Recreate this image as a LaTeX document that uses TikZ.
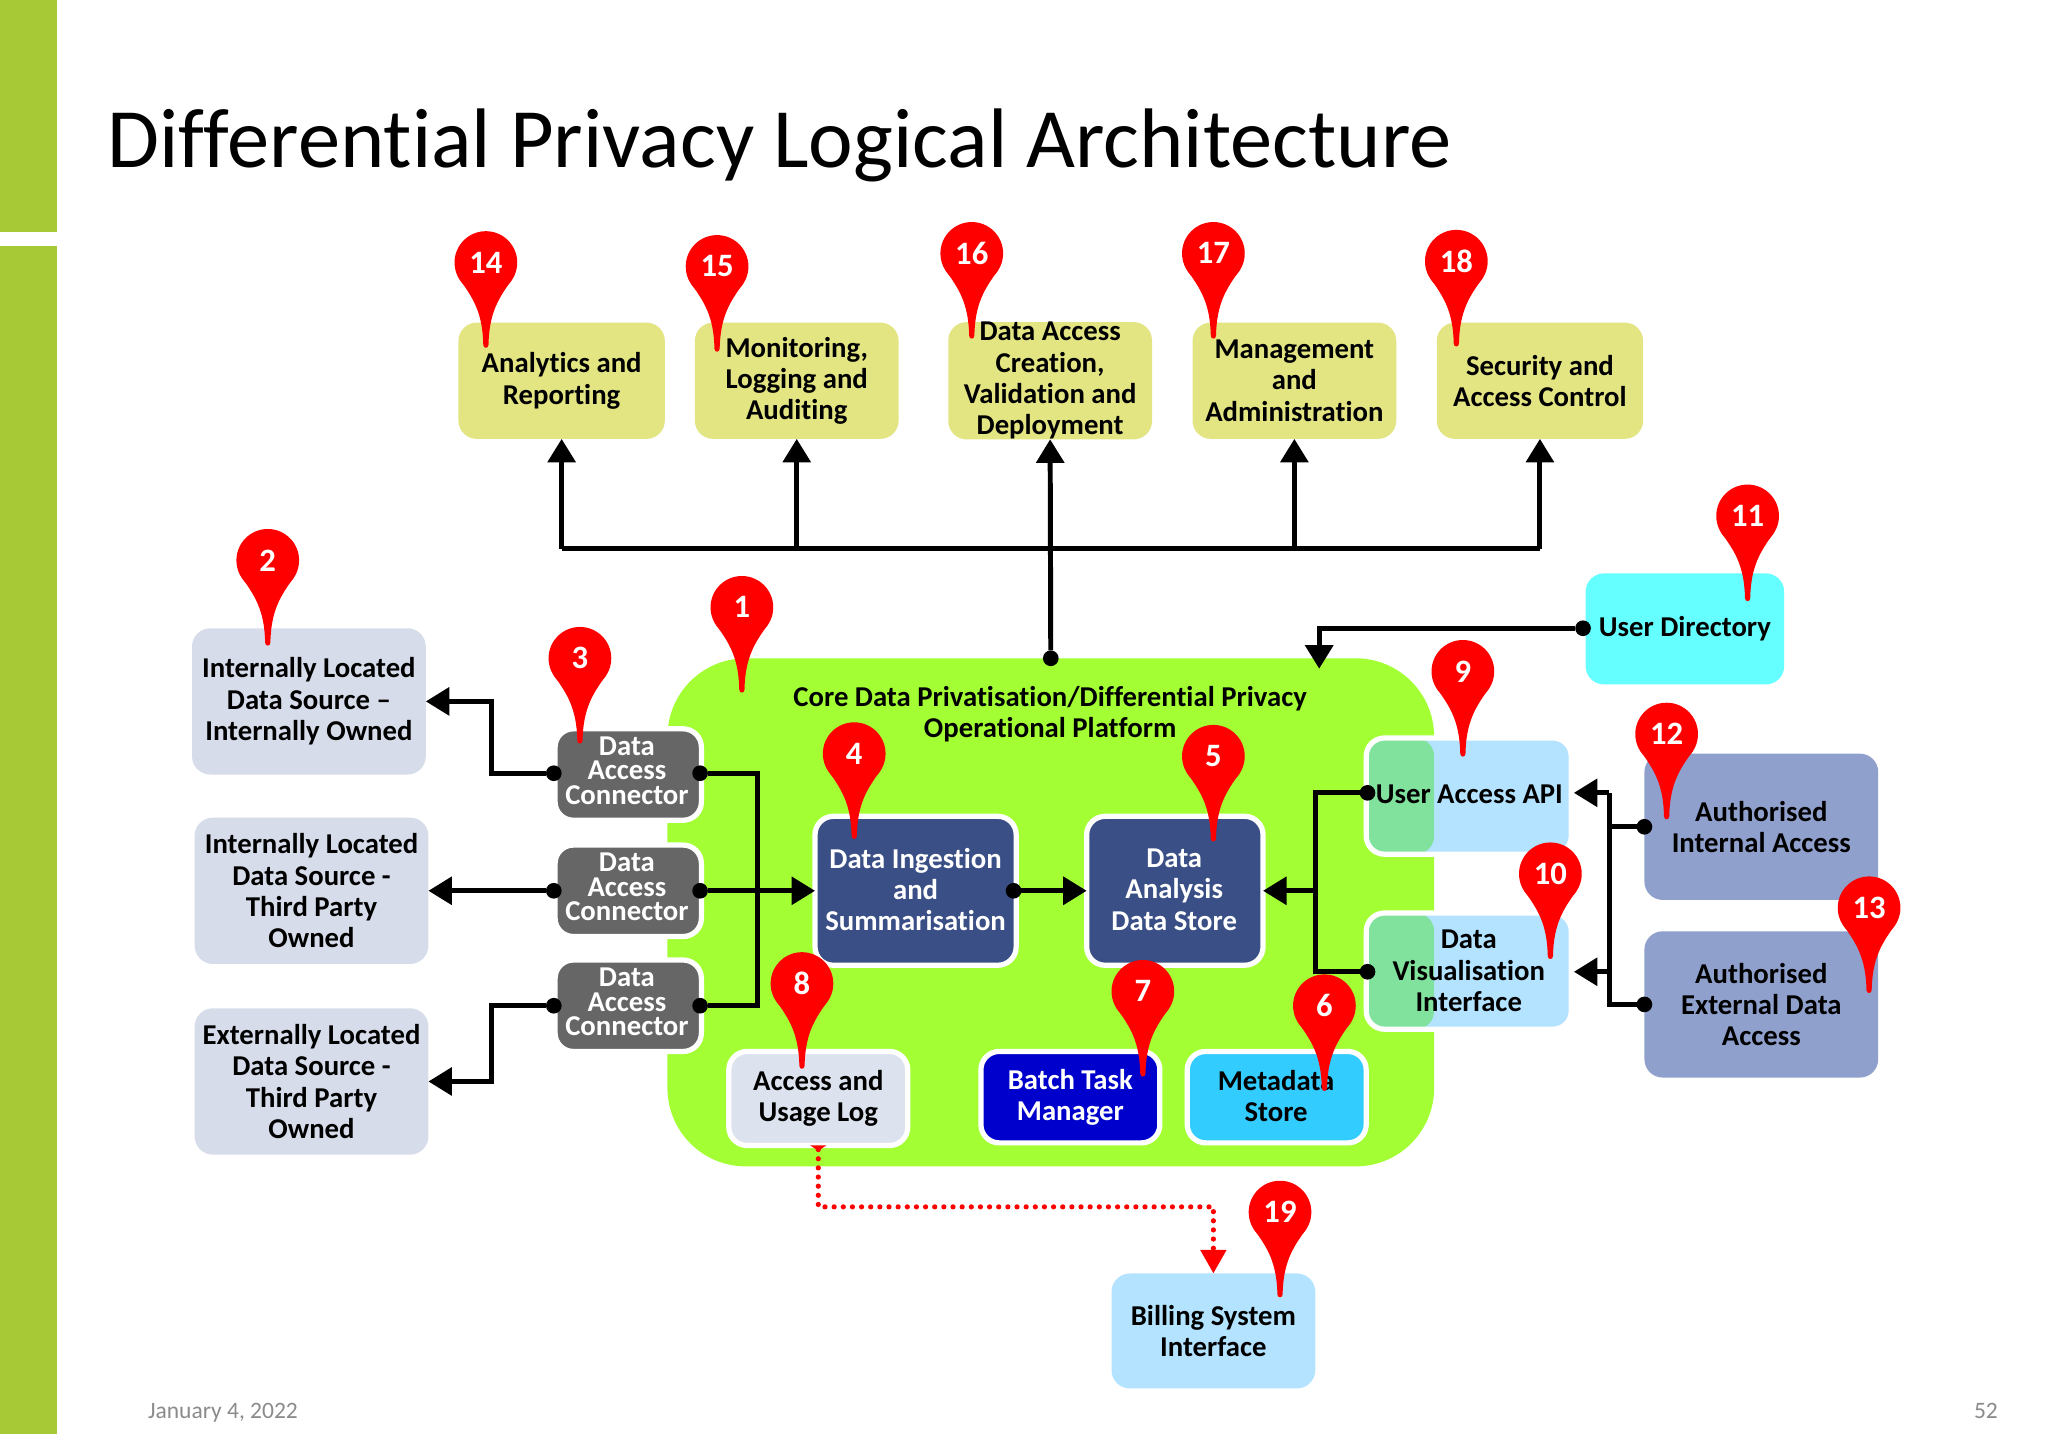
\documentclass[tikz,border=0pt]{standalone}
\usepackage{fontspec}
\setmainfont{Carlito}[Ligatures=NoCommon]
\usetikzlibrary{arrows.meta}
\definecolor{barG}{HTML}{A7C936}
\definecolor{plat}{HTML}{A3FF33}
\definecolor{yel}{HTML}{E3E582}
\definecolor{slate}{HTML}{D6DCE9}
\definecolor{navy}{HTML}{3A4F85}
\definecolor{greyb}{HTML}{666666}
\definecolor{lblue}{HTML}{B3E3FF}
\definecolor{mgreen}{HTML}{80E29C}
\definecolor{peri}{HTML}{8FA0CC}
\definecolor{cyanb}{HTML}{66FFFF}
\definecolor{skyb}{HTML}{33CCFF}
\definecolor{deepb}{HTML}{0000CC}
\definecolor{logb}{HTML}{DDE3EE}
\definecolor{foot}{HTML}{8B8B8B}
\newcommand{\bodyfont}{\bfseries\fontsize{11}{12}\selectfont}
\tikzset{
  x=0.5pt,y=-0.5pt,
  box/.style={rectangle,rounded corners=7pt,inner sep=0pt,outer sep=0pt,align=center,
    font=\bodyfont,text=black},
  wb/.style={box,draw=white,line width=2pt},
  lbl/.style={align=center,inner sep=0pt,font=\bodyfont},
  daclbl/.style={align=center,inner sep=0pt,text=white,font=\bfseries\fontsize{11}{9.3}\selectfont},
  conn/.style={line width=1.9pt,black,line join=miter},
  arr/.style={conn,-{Triangle[length=9pt,width=10.5pt]}},
  dot/.style={circle,fill=black,inner sep=0pt,minimum size=6pt,outer sep=0pt},
  pinnum/.style={text=white,font=\bfseries\fontsize{12.5}{14}\selectfont,inner sep=0pt},
  dotted red/.style={red,line width=2pt,line cap=round,dash pattern=on 0pt off 3.5pt,
    {Triangle[length=2pt,width=6pt,reversed]}-{Triangle[length=9pt,width=9.5pt]}},
}
% name, x1, y1, x2, y2, style, text
\newcommand{\bx}[7]{\node[box,#6,minimum width={(#4-#2)*0.5pt},minimum height={(#5-#3)*0.5pt}] (#1) at ({(#2+#4)/2},{(#3+#5)/2}) {#7};}
% name, x, y, number
\newcommand{\pinat}[4]{\begin{scope}[shift={(#2,#3)}]
  \fill[red] (0,0) circle [radius=24];
  \fill[red] (-20,13) .. controls (-10,27) and (-2.5,38) .. (-2,63) .. controls (-2,66) and (2,66) .. (2,63) .. controls (2.5,38) and (10,27) .. (20,13) -- cycle;
  \node[pinnum] (#1) at (0,0) {#4};
\end{scope}}
\begin{document}
\begin{tikzpicture}
\useasboundingbox (0,0) rectangle (1568,1098);
\fill[white] (0,0) rectangle (1568,1098);
\fill[barG] (0,0) rectangle (44,178);
\fill[barG] (0,188) rectangle (44,1098);
\node[anchor=base west,inner sep=0pt,font=\fontsize{32.35}{38}\selectfont] (title) at (82,128) {Differential Privacy Logical Architecture};
\node[anchor=base west,inner sep=0pt,text=foot,font=\fontsize{9}{11}\selectfont] (date) at (113,1086) {January 4, 2022};
\node[anchor=base east,inner sep=0pt,text=foot,font=\fontsize{9}{11}\selectfont] (pageno) at (1530,1086) {52};
% platform
\bx{plat}{511}{504}{1098}{893}{fill=plat,rounded corners=30pt}{}
\node[lbl] (plattxt) at (804,547) {Core Data Privatisation/Differential Privacy\\Operational Platform};
% top
\bx{a14}{351}{247}{509}{336}{fill=yel}{Analytics and\\Reporting}
\bx{a15}{532}{247}{688}{336}{fill=yel}{Monitoring,\\Logging and\\Auditing}
\bx{a16}{726}{247}{882}{336}{fill=yel}{Data Access\\Creation,\\Validation and\\Deployment}
\bx{a17}{913}{247}{1069}{336}{fill=yel}{Management\\and\\Administration}
\bx{a18}{1100}{247}{1258}{336}{fill=yel}{Security and\\Access Control}
\bx{udir}{1214}{439}{1366}{524}{fill=cyanb}{}
\node[lbl] (udirt) at (1290,481) {User Directory};
% sources
\bx{s1}{147}{481}{326}{593}{fill=slate}{Internally Located\\Data Source –\\Internally Owned}
\bx{s2}{149}{626}{328}{738}{fill=slate}{Internally Located\\Data Source -\\Third Party\\Owned}
\bx{s3}{149}{772}{328}{884}{fill=slate}{Externally Located\\Data Source -\\Third Party\\Owned}
% connectors
\tikzset{dac/.style={wb,fill=greyb}}
\bx{c1}{425}{558}{537}{628}{dac}{}
\bx{c2}{425}{647}{537}{717}{dac}{}
\bx{c3}{425}{735}{537}{805}{dac}{}
\node[daclbl] (c1t) at (480,590) {Data\\Access\\Connector};
\node[daclbl] (c2t) at (480,679) {Data\\Access\\Connector};
\node[daclbl] (c3t) at (480,767) {Data\\Access\\Connector};
\bx{ing}{624}{625}{778}{739}{wb,fill=navy,text=white}{}
\node[lbl,text=white] (ingt) at (701,681) {Data Ingestion\\and\\Summarisation};
\bx{ana}{832}{625}{967}{739}{wb,fill=navy,text=white}{}
\node[lbl,text=white] (anat) at (899,681) {Data\\Analysis\\Data Store};
\bx{api}{1046}{565}{1203}{654}{wb,fill=lblue,path picture={\fill[mgreen] (path picture bounding box.north west) rectangle ([xshift=26pt]path picture bounding box.south west);}}{}
\node[lbl] (apit) at (1125,608) {User Access API};
\bx{vis}{1046}{699}{1203}{788}{wb,fill=lblue,path picture={\fill[mgreen] (path picture bounding box.north west) rectangle ([xshift=26pt]path picture bounding box.south west);}}{Data\\Visualisation\\Interface}
\bx{int}{1259}{577}{1438}{689}{fill=peri}{Authorised\\Internal Access}
\bx{ext}{1259}{713}{1438}{825}{fill=peri}{Authorised\\External Data\\Access}
\bx{log}{558}{805}{695}{877}{wb,fill=logb}{Access and\\Usage Log}
\bx{bat}{751}{805}{888}{875}{wb,fill=deepb,text=white}{Batch Task\\Manager}
\bx{meta}{909}{805}{1046}{875}{wb,fill=skyb}{}
\node[lbl] (metat) at (977,839) {Metadata\\Store};
\bx{bill}{851}{975}{1007}{1063}{fill=lblue}{Billing System\\Interface}
% dots
\node[dot] (dt) at (804.5,504) {};
\node[dot] (du) at (1212,481) {};
\node[dot] (l1) at (424,592) {};
\node[dot] (l2) at (424,682) {};
\node[dot] (l3) at (424,770) {};
\node[dot] (r1) at (536,592) {};
\node[dot] (r2) at (536,682) {};
\node[dot] (r3) at (536,770) {};
\node[dot] (di) at (776,682) {};
\node[dot] (dapi) at (1047,607) {};
\node[dot] (dvis) at (1047,744) {};
\node[dot] (dint) at (1259,633) {};
\node[dot] (dext) at (1259,769) {};
\coordinate (busL) at (430,420);
\coordinate (busR) at (1179,420);
\coordinate (bus2) at (610,420);
\coordinate (bus4) at (991,420);
% top bus
\draw[conn,line cap=square] (busL) -- (busR);
\draw[arr] (dt) -- (a16.south);
\draw[arr] (busL) -- (a14.south);
\draw[arr] (bus2) -- (a15.south);
\draw[arr] (bus4) -- (a17.south);
\draw[arr] (busR) -- (a18.south);
% user directory
\coordinate (ptop) at (1010,512);
\draw[arr] (du) -| (ptop);
% left side
\draw[arr] (l1) -- ++(-48,0) |- (s1.east);
\draw[arr] (l2) -- (s2.east);
\draw[arr] (l3) -- ++(-48,0) |- (s3.east);
% to ingestion
\draw[conn] (r1) -- ++(44,0) |- (r3);
\draw[arr] (r2) -- (ing.west);
\draw[arr] (di) -- (ana.west);
% api/vis to analysis
\coordinate (jn) at (1007,682);
\draw[conn] (dapi) -| (jn) |- (dvis);
\draw[arr] (jn) -- (ana.east);
% authorised
\coordinate (apiar) at (1205,607);
\coordinate (visar) at (1205,744);
\coordinate (jr1) at (1232,607);
\coordinate (jr2) at (1232,744);
\draw[conn] (dint) -- (jr1 |- dint);
\draw[conn] (dext) -| (jr1);
\draw[arr] (jr1) -- (apiar);
\draw[arr] (jr2) -- (visar);
% dotted
\draw[dotted red] (log.south) -- ++(0,47) -| (bill.north);
% pins
\pinat{p14}{372}{201}{14}
\pinat{p15}{549}{204}{15}
\pinat{p16}{744}{194}{16}
\pinat{p17}{929}{194}{17}
\pinat{p18}{1115}{200}{18}
\pinat{p2}{205}{429}{2}
\pinat{p1}{568}{465}{1}
\pinat{p3}{444}{504}{3}
\pinat{p4}{654}{577}{4}
\pinat{p5}{929}{579}{5}
\pinat{p8}{614}{753}{8}
\pinat{p7}{875}{759}{7}
\pinat{p6}{1014}{770}{6}
\pinat{p9}{1120}{514}{9}
\pinat{p10}{1187}{669}{10}
\pinat{p11}{1338}{395}{11}
\pinat{p12}{1276}{562}{12}
\pinat{p13}{1431}{695}{13}
\pinat{p19}{980}{928}{19}
\end{tikzpicture}
\end{document}
